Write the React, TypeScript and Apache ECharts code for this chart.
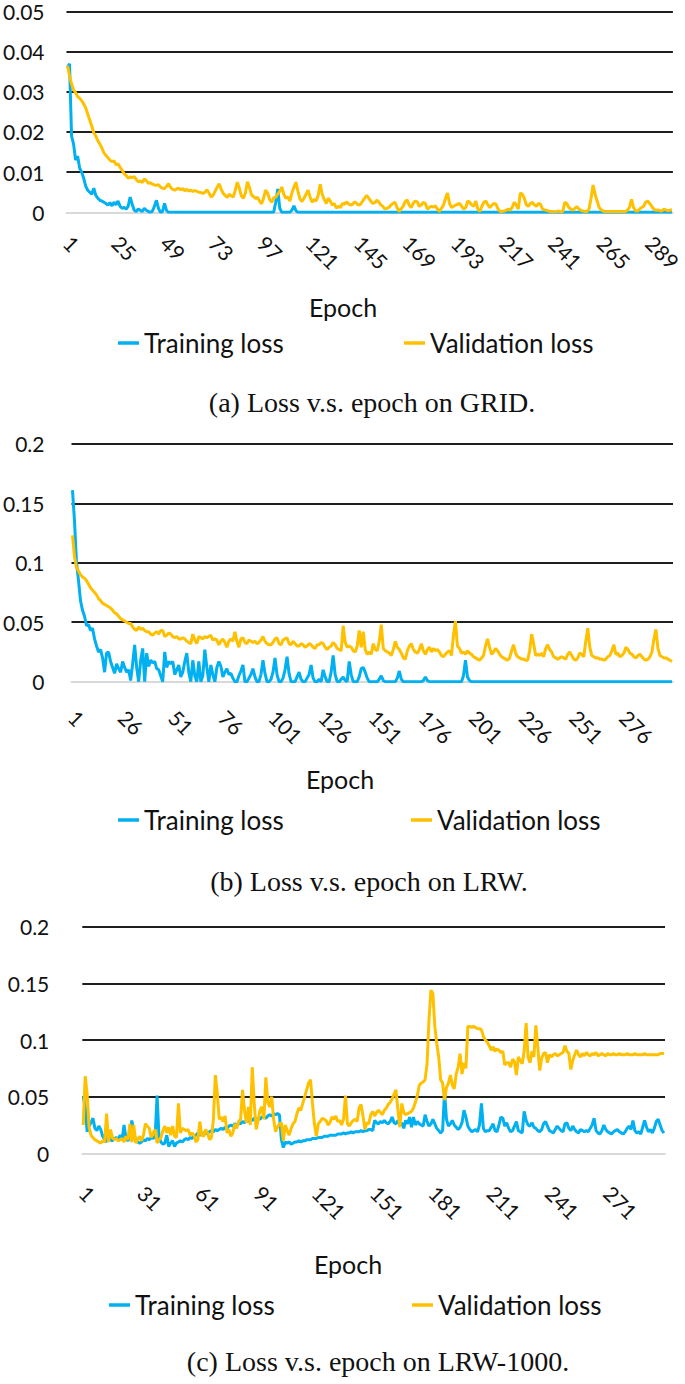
import React, { useEffect, useRef } from 'react';
import * as echarts from 'echarts';

const EPOCHS = Array.from({ length: 300 }, (_, i) => String(i + 1));

const GRID_TRAIN = [
  0.036, 0.037, 0.019, 0.017, 0.013, 0.014, 0.011, 0.01, 0.0085, 0.0065,
  0.0055, 0.005, 0.0045, 0.006, 0.0042, 0.0035, 0.003, 0.0028, 0.0025, 0.0022,
  0.0018, 0.0024, 0.0016, 0.0025, 0.0019, 0.0028, 0.0015, 0.001, 0.0012, 0.0008,
  0.0015, 0.0038, 0.002, 0.0005, 0.0002, 0.0008, 0.0005, 0.0002, 0.001, 0.0005,
  0.0002, 0, 0.0003, 0.0015, 0.003, 0.001, 0, 0.0002, 0.0022, 0.0004,
  0, 0, 0, 0, 0, 0, 0, 0, 0, 0,
  0, 0, 0, 0, 0, 0, 0, 0, 0, 0,
  0, 0, 0, 0, 0, 0, 0, 0, 0, 0,
  0, 0, 0, 0, 0, 0, 0, 0, 0, 0,
  0, 0, 0, 0, 0, 0, 0, 0, 0, 0,
  0, 0, 0, 0.0025, 0.0058, 0.001, 0, 0, 0, 0,
  0, 0.0005, 0.0016, 0.0004, 0, 0, 0, 0, 0, 0,
  0, 0, 0, 0, 0, 0, 0, 0, 0, 0,
  0, 0, 0, 0, 0, 0, 0, 0, 0, 0,
  0, 0, 0, 0, 0, 0, 0, 0, 0, 0,
  0, 0, 0, 0, 0, 0, 0, 0, 0, 0,
  0, 0, 0, 0, 0, 0, 0, 0, 0, 0,
  0, 0, 0, 0, 0, 0, 0, 0, 0, 0,
  0, 0, 0, 0, 0, 0, 0, 0, 0, 0,
  0, 0, 0, 0, 0, 0, 0, 0, 0, 0,
  0, 0, 0, 0, 0, 0, 0, 0, 0, 0,
  0, 0, 0, 0, 0, 0, 0, 0, 0, 0,
  0, 0, 0, 0, 0, 0, 0, 0, 0, 0,
  0, 0, 0, 0, 0, 0, 0, 0, 0, 0,
  0, 0, 0, 0, 0, 0, 0, 0, 0, 0,
  0, 0, 0, 0, 0, 0, 0, 0, 0, 0,
  0, 0, 0, 0, 0, 0, 0, 0, 0, 0,
  0, 0, 0, 0, 0, 0, 0, 0, 0, 0,
  0, 0, 0, 0, 0, 0, 0, 0, 0, 0,
  0, 0, 0, 0, 0, 0, 0, 0, 0, 0,
];

const GRID_VAL = [
  0.0365, 0.034, 0.032, 0.0305, 0.0298, 0.0288, 0.0284, 0.0278, 0.027, 0.026,
  0.0245, 0.023, 0.0215, 0.0198, 0.019, 0.0178, 0.017, 0.016, 0.0148, 0.0142,
  0.0136, 0.013, 0.0126, 0.0128, 0.0118, 0.0121, 0.0112, 0.0105, 0.0096, 0.0092,
  0.0085, 0.0088, 0.0086, 0.0089, 0.0082, 0.0076, 0.0078, 0.0074, 0.0083, 0.0079,
  0.0072, 0.0074, 0.007, 0.0068, 0.0067, 0.0069, 0.0063, 0.006, 0.0059, 0.0065,
  0.0071, 0.0062, 0.0057, 0.0055, 0.0058, 0.006, 0.0056, 0.0059, 0.0054, 0.0057,
  0.0053, 0.0055, 0.0052, 0.0054, 0.0052, 0.005, 0.0049, 0.0047, 0.005, 0.0056,
  0.0048, 0.0038, 0.0042, 0.0052, 0.0062, 0.0071, 0.0058, 0.0047, 0.0042, 0.0037,
  0.0045, 0.0041, 0.0038, 0.0055, 0.0075, 0.006, 0.0041, 0.0035, 0.0048, 0.0076,
  0.0062, 0.0044, 0.0039, 0.0035, 0.0037, 0.0028, 0.0021, 0.0035, 0.0055, 0.0048,
  0.0032, 0.0025, 0.0036, 0.0038, 0.0045, 0.0052, 0.0063, 0.0045, 0.0035, 0.0038,
  0.0028, 0.0048, 0.0062, 0.0075, 0.0052, 0.0033, 0.0027, 0.0035, 0.0045, 0.0055,
  0.0038, 0.0025, 0.0032, 0.0028, 0.0042, 0.007, 0.0045, 0.0032, 0.0022, 0.0035,
  0.0028, 0.0018, 0.0022, 0.001, 0.0015, 0.0012, 0.0022, 0.002, 0.0026, 0.0021,
  0.0018, 0.002, 0.0026, 0.0022, 0.0018, 0.002, 0.0028, 0.0035, 0.0042, 0.0035,
  0.0028, 0.0022, 0.0024, 0.003, 0.0026, 0.0018, 0.0015, 0.0008, 0.001, 0.0012,
  0.0018, 0.0022, 0.0025, 0.0012, 0.0002, 0.0008, 0.0015, 0.0026, 0.0031, 0.0018,
  0.0012, 0.0022, 0.0028, 0.0026, 0.0015, 0.0018, 0.0025, 0.0022, 0.0008, 0.0012,
  0.0015, 0.0013, 0.0016, 0.0008, 0.0002, 0.001, 0.0018, 0.0035, 0.0048, 0.0022,
  0.0012, 0.0015, 0.0018, 0.002, 0.0022, 0.0015, 0.0008, 0.0012, 0.0028, 0.0025,
  0.0018, 0.0015, 0.0028, 0.0008, 0.0002, 0.0015, 0.0025, 0.0028, 0.0018, 0.0012,
  0.0018, 0.0022, 0.002, 0.0008, 0.0002, 0.0002, 0.0003, 0.0005, 0.0008, 0.0005,
  0.0012, 0.0025, 0.0018, 0.0008, 0.0048, 0.0045, 0.0035, 0.0018, 0.0015, 0.0022,
  0.0025, 0.0018, 0.0015, 0.0022, 0.002, 0.0008, 0.0006, 0.0005, 0.0003, 0.0002,
  0.0002, 0.0001, 0.0002, 0.0003, 0.0001, 0.0002, 0.0025, 0.0022, 0.0012, 0.0008,
  0.0005, 0.001, 0.0014, 0.0008, 0.0005, 0.0003, 0.0002, 0.0002, 0.0008, 0.0035,
  0.0068, 0.0045, 0.0028, 0.0012, 0.0006, 0.0003, 0.0002, 0.0002, 0.0002, 0.0002,
  0.0002, 0.0002, 0.0002, 0.0002, 0.0002, 0.0002, 0.0002, 0.0005, 0.0012, 0.0032,
  0.0012, 0.0004, 0.0003, 0.0008, 0.0012, 0.0015, 0.0025, 0.0028, 0.0022, 0.0015,
  0.0008, 0.0005, 0.0006, 0.0004, 0.0003, 0.0008, 0.0006, 0.0004, 0.0005, 0.0007,
];

const LRW_TRAIN = [
  0.161, 0.135, 0.1, 0.085, 0.068, 0.06, 0.055, 0.047, 0.048, 0.043,
  0.045, 0.036, 0.03, 0.025, 0.027, 0.02, 0.008, 0.024, 0.025, 0.017,
  0.012, 0.007, 0.015, 0.011, 0.008, 0.017, 0.012, 0.008, 0.01, 0.001,
  0.015, 0.031, 0.012, 0, 0.018, 0.028, 0, 0.024, 0.013, 0.018,
  0.016, 0.017, 0.011, 0.01, 0.005, 0, 0.025, 0.012, 0.017, 0.015,
  0.017, 0.006, 0.01, 0.014, 0.004, 0.008, 0.017, 0.024, 0.008, 0,
  0.018, 0.005, 0, 0.017, 0, 0.005, 0.027, 0.012, 0, 0.014,
  0.006, 0, 0.012, 0.017, 0.013, 0.004, 0.008, 0.011, 0.006, 0.007,
  0.003, 0, 0, 0.005, 0.009, 0.014, 0, 0, 0.003, 0.006,
  0.011, 0.004, 0, 0, 0.006, 0.018, 0.007, 0, 0, 0.002,
  0.008, 0.02, 0.006, 0, 0, 0.003, 0.01, 0.021, 0.007, 0,
  0, 0, 0.004, 0.008, 0.002, 0, 0, 0.003, 0.006, 0.014,
  0.003, 0, 0, 0.002, 0, 0.01, 0.004, 0, 0, 0.008,
  0.022, 0.006, 0, 0, 0.002, 0.004, 0.001, 0, 0.017, 0.006,
  0, 0, 0, 0.004, 0.011, 0.012, 0.008, 0.003, 0, 0,
  0, 0, 0, 0.002, 0.005, 0.001, 0, 0, 0, 0,
  0, 0, 0.003, 0.009, 0.002, 0, 0, 0, 0, 0,
  0, 0, 0, 0, 0, 0.001, 0.004, 0.001, 0, 0,
  0, 0, 0, 0, 0, 0, 0, 0, 0, 0,
  0, 0, 0, 0, 0, 0.005, 0.018, 0.004, 0.001, 0,
  0, 0, 0, 0, 0, 0, 0, 0, 0, 0,
  0, 0, 0, 0, 0, 0, 0, 0, 0, 0,
  0, 0, 0, 0, 0, 0, 0, 0, 0, 0,
  0, 0, 0, 0, 0, 0, 0, 0, 0, 0,
  0, 0, 0, 0, 0, 0, 0, 0, 0, 0,
  0, 0, 0, 0, 0, 0, 0, 0, 0, 0,
  0, 0, 0, 0, 0, 0, 0, 0, 0, 0,
  0, 0, 0, 0, 0, 0, 0, 0, 0, 0,
  0, 0, 0, 0, 0, 0, 0, 0, 0, 0,
  0, 0, 0, 0, 0, 0, 0, 0, 0, 0,
];

const LRW_VAL = [
  0.123, 0.105, 0.096, 0.093, 0.09, 0.088, 0.087, 0.085, 0.082, 0.079,
  0.077, 0.075, 0.073, 0.07, 0.068, 0.066, 0.065, 0.064, 0.063, 0.062,
  0.06, 0.058, 0.057, 0.055, 0.053, 0.052, 0.051, 0.05, 0.049, 0.049,
  0.046, 0.044, 0.043, 0.046, 0.044, 0.045, 0.043, 0.042, 0.042, 0.04,
  0.039, 0.041, 0.042, 0.04, 0.043, 0.043, 0.038, 0.039, 0.041, 0.04,
  0.038, 0.037, 0.038, 0.036, 0.036, 0.037, 0.036, 0.034, 0.033, 0.032,
  0.04, 0.035, 0.032, 0.038, 0.037, 0.036, 0.038, 0.037, 0.038, 0.039,
  0.035, 0.036, 0.035, 0.031, 0.034, 0.036, 0.033, 0.029, 0.034, 0.036,
  0.034, 0.042, 0.034, 0.029, 0.036, 0.037, 0.033, 0.032, 0.035, 0.034,
  0.033, 0.034, 0.032, 0.033, 0.035, 0.038, 0.034, 0.032, 0.031, 0.031,
  0.033, 0.036, 0.037, 0.032, 0.031, 0.035, 0.036, 0.037, 0.032, 0.031,
  0.034, 0.032, 0.03, 0.03, 0.032, 0.031, 0.029, 0.03, 0.032, 0.031,
  0.029, 0.028, 0.031, 0.031, 0.033, 0.032, 0.029, 0.027, 0.029, 0.03,
  0.033, 0.031, 0.028, 0.027, 0.026, 0.047, 0.033, 0.029, 0.03, 0.029,
  0.026, 0.025, 0.03, 0.043, 0.029, 0.042, 0.027, 0.023, 0.025, 0.023,
  0.032, 0.027, 0.026, 0.034, 0.048, 0.028, 0.026, 0.025, 0.024, 0.022,
  0.027, 0.034, 0.029, 0.027, 0.024, 0.02, 0.019, 0.026, 0.03, 0.032,
  0.027, 0.025, 0.024, 0.027, 0.032, 0.026, 0.023, 0.027, 0.029, 0.025,
  0.028, 0.026, 0.027, 0.025, 0.022, 0.021, 0.023, 0.025, 0.026, 0.022,
  0.039, 0.051, 0.03, 0.028, 0.024, 0.025, 0.023, 0.026, 0.024, 0.023,
  0.021, 0.02, 0.019, 0.018, 0.02, 0.022, 0.03, 0.036, 0.029, 0.023,
  0.025, 0.028, 0.026, 0.023, 0.021, 0.02, 0.019, 0.018, 0.02, 0.026,
  0.031, 0.024, 0.021, 0.02, 0.019, 0.019, 0.018, 0.018, 0.026, 0.04,
  0.032, 0.022, 0.023, 0.022, 0.024, 0.021, 0.028, 0.031, 0.027, 0.025,
  0.021, 0.02, 0.019, 0.02, 0.021, 0.02, 0.019, 0.023, 0.025, 0.022,
  0.019, 0.018, 0.02, 0.024, 0.023, 0.021, 0.034, 0.045, 0.029, 0.022,
  0.021, 0.02, 0.02, 0.019, 0.019, 0.018, 0.019, 0.021, 0.022, 0.026,
  0.031, 0.023, 0.024, 0.021, 0.022, 0.024, 0.029, 0.027, 0.024, 0.023,
  0.021, 0.02, 0.022, 0.023, 0.021, 0.019, 0.018, 0.019, 0.021, 0.025,
  0.036, 0.044, 0.028, 0.022, 0.021, 0.02, 0.02, 0.019, 0.018, 0.017,
];

const LRW1000_TRAIN = [
  0.05, 0.041, 0.019, 0.024, 0.027, 0.031, 0.022, 0.02, 0.024, 0.021,
  0.015, 0.012, 0.01, 0.018, 0.012, 0.011, 0.013, 0.014, 0.012, 0.016,
  0.012, 0.025, 0.013, 0.011, 0.015, 0.029, 0.018, 0.012, 0.01, 0.009,
  0.01, 0.012, 0.011, 0.013, 0.012, 0.014, 0.013, 0.015, 0.051, 0.014,
  0.01, 0.008, 0.009, 0.016, 0.006, 0.009, 0.011, 0.006, 0.009, 0.01,
  0.011, 0.01, 0.012, 0.013, 0.012, 0.014, 0.013, 0.015, 0.016, 0.018,
  0.016, 0.017, 0.018, 0.017, 0.018, 0.019, 0.02, 0.019, 0.021, 0.02,
  0.021, 0.022, 0.021, 0.023, 0.022, 0.024, 0.025, 0.024, 0.026, 0.025,
  0.027, 0.026, 0.028, 0.027, 0.029, 0.028, 0.03, 0.029, 0.031, 0.03,
  0.031, 0.03, 0.032, 0.032, 0.031, 0.033, 0.034, 0.033, 0.035, 0.034,
  0.035, 0.034, 0.012, 0.005, 0.01, 0.009, 0.01, 0.008, 0.009, 0.01,
  0.01, 0.011, 0.01, 0.011, 0.011, 0.012, 0.012, 0.012, 0.013, 0.013,
  0.013, 0.014, 0.014, 0.014, 0.015, 0.015, 0.015, 0.016, 0.016, 0.016,
  0.016, 0.017, 0.017, 0.017, 0.018, 0.017, 0.018, 0.018, 0.019, 0.018,
  0.019, 0.019, 0.019, 0.02, 0.019, 0.02, 0.02, 0.021, 0.021, 0.02,
  0.029, 0.027, 0.026, 0.028, 0.027, 0.029, 0.027, 0.026, 0.028, 0.032,
  0.027, 0.026, 0.029, 0.025, 0.027, 0.022, 0.029, 0.026, 0.032, 0.023,
  0.032, 0.025, 0.028, 0.026, 0.025, 0.024, 0.034, 0.028, 0.024, 0.026,
  0.03, 0.026, 0.022, 0.02, 0.018, 0.02, 0.054, 0.03, 0.024, 0.026,
  0.029, 0.025, 0.023, 0.021, 0.023, 0.027, 0.038, 0.032, 0.024, 0.021,
  0.019, 0.02, 0.021, 0.019, 0.025, 0.044, 0.022, 0.019, 0.02, 0.02,
  0.023, 0.026, 0.02, 0.019, 0.025, 0.032, 0.031, 0.024, 0.027, 0.022,
  0.019, 0.02, 0.024, 0.028, 0.02, 0.019, 0.018, 0.037, 0.029, 0.025,
  0.024, 0.027, 0.023, 0.022, 0.02, 0.019, 0.021, 0.026, 0.028, 0.024,
  0.02, 0.019, 0.018, 0.021, 0.024, 0.022, 0.02, 0.019, 0.026, 0.027,
  0.022, 0.02, 0.024, 0.021, 0.019, 0.018, 0.021, 0.02, 0.019, 0.02,
  0.019, 0.022, 0.025, 0.031, 0.02, 0.018, 0.017, 0.02, 0.025, 0.021,
  0.019, 0.018, 0.017, 0.019, 0.02, 0.021, 0.019, 0.018, 0.017, 0.019,
  0.022, 0.024, 0.021, 0.029, 0.02, 0.018, 0.019, 0.017, 0.023, 0.029,
  0.023, 0.019, 0.021, 0.018, 0.022, 0.028, 0.03, 0.025, 0.02, 0.018,
];

const LRW1000_VAL = [
  0.025, 0.068, 0.052, 0.023, 0.016, 0.014, 0.012, 0.011, 0.01, 0.009,
  0.011, 0.01, 0.035, 0.01, 0.021, 0.014, 0.012, 0.013, 0.011, 0.012,
  0.013, 0.01, 0.015, 0.012, 0.026, 0.01, 0.025, 0.009, 0.012, 0.015,
  0.011, 0.016, 0.026, 0.024, 0.022, 0.014, 0.018, 0.021, 0.009, 0.012,
  0.014, 0.02, 0.024, 0.018, 0.023, 0.016, 0.024, 0.015, 0.014, 0.044,
  0.018, 0.022, 0.021, 0.02, 0.021, 0.016, 0.018, 0.016, 0.01, 0.012,
  0.028, 0.016, 0.015, 0.021, 0.018, 0.012, 0.014, 0.03, 0.069, 0.053,
  0.03, 0.032, 0.028, 0.033, 0.018, 0.021, 0.015, 0.018, 0.026, 0.022,
  0.028, 0.03, 0.056, 0.038, 0.027, 0.041, 0.025, 0.076, 0.045, 0.021,
  0.029, 0.038, 0.041, 0.03, 0.067, 0.045, 0.041, 0.05, 0.03, 0.019,
  0.023, 0.026, 0.027, 0.011, 0.025, 0.02, 0.016, 0.022, 0.026, 0.028,
  0.035, 0.04, 0.038, 0.044, 0.05, 0.056, 0.062, 0.065, 0.044, 0.026,
  0.015, 0.026, 0.028, 0.031, 0.03, 0.029, 0.025, 0.027, 0.032, 0.03,
  0.033, 0.028, 0.029, 0.025, 0.03, 0.051, 0.026, 0.024, 0.027, 0.029,
  0.03, 0.028, 0.04, 0.043, 0.033, 0.021, 0.027, 0.026, 0.034, 0.037,
  0.033, 0.036, 0.038, 0.036, 0.034, 0.038, 0.04, 0.043, 0.045, 0.048,
  0.052, 0.056, 0.038, 0.023, 0.044, 0.036, 0.034, 0.035, 0.036, 0.037,
  0.04, 0.045, 0.051, 0.06, 0.062, 0.063, 0.065, 0.079, 0.118, 0.144,
  0.141, 0.112, 0.097, 0.085, 0.065, 0.062, 0.047, 0.058, 0.062, 0.069,
  0.06, 0.057, 0.07, 0.076, 0.088, 0.07, 0.08, 0.075, 0.112, 0.112,
  0.111, 0.112, 0.111, 0.11, 0.11, 0.109, 0.103, 0.1, 0.098, 0.095,
  0.091, 0.094, 0.09, 0.092, 0.091, 0.089, 0.09, 0.078, 0.08, 0.08,
  0.076, 0.083, 0.081, 0.069, 0.085, 0.082, 0.079, 0.09, 0.115, 0.085,
  0.08, 0.09, 0.085, 0.113, 0.094, 0.073, 0.084, 0.088, 0.089, 0.08,
  0.087, 0.085, 0.087, 0.088, 0.086, 0.087, 0.088, 0.089, 0.095, 0.09,
  0.088, 0.074, 0.082, 0.087, 0.091, 0.087, 0.085, 0.088, 0.086, 0.089,
  0.087, 0.086, 0.088, 0.087, 0.089, 0.086, 0.087, 0.088, 0.087, 0.086,
  0.088, 0.087, 0.087, 0.088, 0.087, 0.087, 0.088, 0.087, 0.087, 0.087,
  0.088, 0.087, 0.087, 0.087, 0.088, 0.087, 0.087, 0.087, 0.087, 0.088,
  0.087, 0.087, 0.087, 0.087, 0.087, 0.087, 0.087, 0.088, 0.088, 0.088,
];

const BLUE = '#00B0F0';
const ORANGE = '#FFC000';
const DARK = '#1f1f1f';
const ZERO = '#d9d9d9';
const SANS = 'Lato';
const SERIF = 'Liberation Serif';

type Panel = {
  grid: { left: number; top: number; width: number; height: number };
  max: number;
  interval: number;
  labelEvery: number;
  yMargin: number;
  xMargin: number;
  train: number[];
  val: number[];
  epochX: number;
  epochY: number;
  legendY: number;
  legTrainX: number;
  legValX: number;
  caption: string;
  captionX: number;
  captionY: number;
};

const PANELS: Panel[] = [
  {
    grid: { left: 65, top: 11.5, width: 610, height: 200.8 },
    max: 0.05, interval: 0.01, labelEvery: 24, yMargin: 22, xMargin: 27,
    train: GRID_TRAIN, val: GRID_VAL,
    epochX: 343, epochY: 307, legendY: 345, legTrainX: 118, legValX: 404,
    caption: '(a) Loss v.s. epoch on GRID.', captionX: 372, captionY: 402,
  },
  {
    grid: { left: 70, top: 443.8, width: 603, height: 237.9 },
    max: 0.2, interval: 0.05, labelEvery: 25, yMargin: 27, xMargin: 32,
    train: LRW_TRAIN, val: LRW_VAL,
    epochX: 340, epochY: 779, legendY: 822, legTrainX: 118, legValX: 411,
    caption: '(b) Loss v.s. epoch on LRW.', captionX: 369, captionY: 881,
  },
  {
    grid: { left: 82.3, top: 926.7, width: 582.7, height: 226.6 },
    max: 0.2, interval: 0.05, labelEvery: 30, yMargin: 33, xMargin: 36,
    train: LRW1000_TRAIN, val: LRW1000_VAL,
    epochX: 348, epochY: 1264, legendY: 1307, legTrainX: 109, legValX: 412,
    caption: '(c) Loss v.s. epoch on LRW-1000.', captionX: 378, captionY: 1361,
  },
];

function buildOption() {
  const grid: any[] = [];
  const xAxis: any[] = [];
  const yAxis: any[] = [];
  const series: any[] = [];
  const legend: any[] = [];
  const graphic: any[] = [];

  PANELS.forEach((p, i) => {
    grid.push({ ...p.grid, containLabel: false });
    const nLines = Math.round(p.max / p.interval) + 1;
    const colors = [ZERO];
    for (let k = 1; k < nLines; k++) colors.push(DARK);
    yAxis.push({
      gridIndex: i,
      type: 'value',
      min: 0,
      max: p.max,
      interval: p.interval,
      axisLine: { show: false },
      axisTick: { show: false },
      axisLabel: {
        margin: p.yMargin,
        fontFamily: SANS,
        fontSize: 21,
        lineHeight: 17,
        color: '#111',
        formatter: (v: number) => (v === 0 ? '0' : String(Number(v.toFixed(3)))),
      },
      splitLine: { show: true, lineStyle: { color: colors, width: 1.8 } },
    });
    xAxis.push({
      gridIndex: i,
      type: 'category',
      data: EPOCHS,
      boundaryGap: true,
      axisLine: { show: true, lineStyle: { color: ZERO, width: 1.8 } },
      axisTick: { show: false },
      axisLabel: {
        interval: p.labelEvery - 1,
        rotate: -45,
        margin: p.xMargin,
        fontFamily: SANS,
        fontSize: 21,
        color: '#111',
      },
    });
    series.push({
      name: 'Training loss',
      type: 'line',
      xAxisIndex: i,
      yAxisIndex: i,
      data: p.train,
      showSymbol: false,
      symbol: 'none',
      lineStyle: { color: BLUE, width: 3 },
      itemStyle: { color: BLUE },
    });
    series.push({
      name: 'Validation loss',
      type: 'line',
      xAxisIndex: i,
      yAxisIndex: i,
      data: p.val,
      showSymbol: false,
      symbol: 'none',
      lineStyle: { color: ORANGE, width: 3 },
      itemStyle: { color: ORANGE },
    });
    const legBase = {
      orient: 'horizontal',
      icon: 'rect',
      itemWidth: 21,
      itemHeight: 3.5,
      padding: 0,
      selectedMode: false,
      textStyle: { fontFamily: SANS, fontSize: 26, color: '#111' },
    };
    legend.push({ ...legBase, left: p.legTrainX, top: p.legendY - 15, data: ['Training loss'] });
    legend.push({ ...legBase, left: p.legValX, top: p.legendY - 15, data: ['Validation loss'] });
    graphic.push({
      type: 'text',
      x: p.epochX,
      y: p.epochY,
      style: {
        text: 'Epoch',
        fontFamily: SANS,
        fontSize: 25,
        fill: '#111',
        textAlign: 'center',
        textVerticalAlign: 'middle',
      },
    });
    graphic.push({
      type: 'text',
      x: p.captionX,
      y: p.captionY,
      style: {
        text: p.caption,
        fontFamily: SERIF,
        fontSize: 28,
        fill: '#111',
        textAlign: 'center',
        textVerticalAlign: 'middle',
      },
    });
  });

  return {
    animation: false,
    backgroundColor: '#ffffff',
    grid,
    xAxis,
    yAxis,
    series,
    legend,
    graphic,
  };
}

export default function App() {
  const ref = useRef<HTMLDivElement>(null);
  useEffect(() => {
    document.body.style.margin = '0';
    if (!ref.current) return;
    const chart = echarts.init(ref.current, null, { renderer: 'svg' });
    chart.setOption(buildOption() as any);
    return () => chart.dispose();
  }, []);
  return <div ref={ref} style={{ width: 685, height: 1384 }} />;
}
